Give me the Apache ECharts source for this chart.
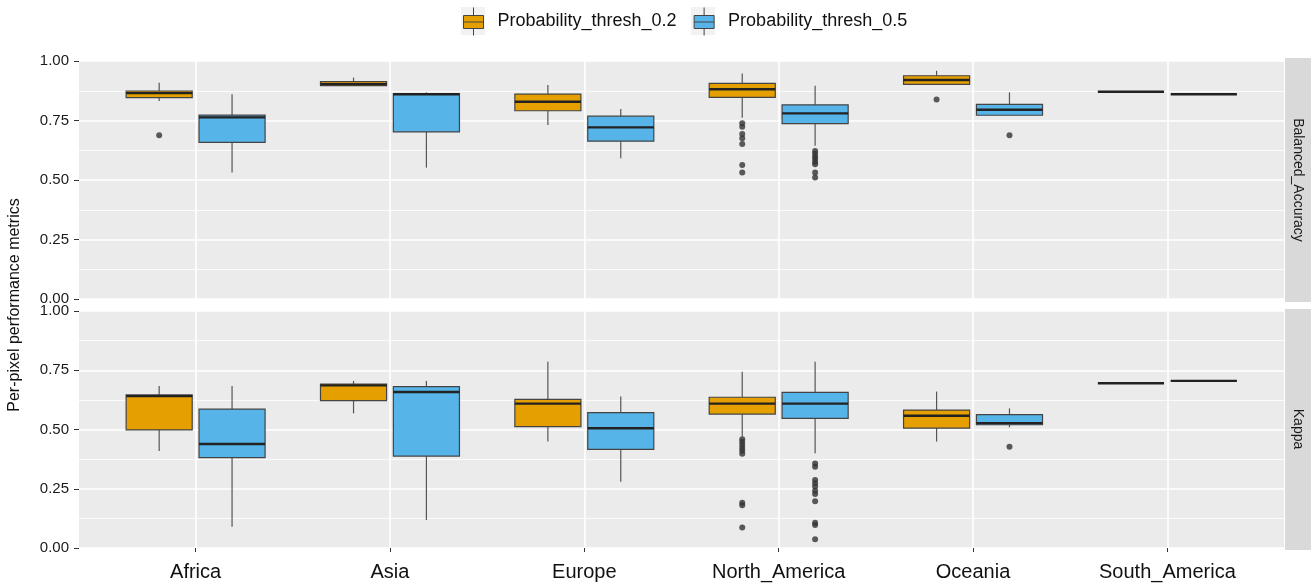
<!DOCTYPE html>
<html>
<head>
<meta charset="utf-8">
<script src="https://cdn.jsdelivr.net/npm/echarts@6/dist/echarts.min.js"></script>
<style>
  html, body { margin: 0; padding: 0; background: #fff; }
  #chart { width: 1313px; height: 585px; }
</style>
</head>
<body>
<div id="chart"></div>
<script>
var regions = ['Africa', 'Asia', 'Europe', 'North_America', 'Oceania', 'South_America'];
var seriesNames = ['Probability_thresh_0.2', 'Probability_thresh_0.5'];
var panelNames = ['Balanced_Accuracy', 'Kappa'];

// box stats per region: [lower whisker, Q1, median, Q3, upper whisker]
var baThresh02 = [
  [0.832, 0.846, 0.865, 0.874, 0.909],
  [0.896, 0.896, 0.902, 0.913, 0.930],
  [0.731, 0.791, 0.829, 0.861, 0.899],
  [0.762, 0.847, 0.881, 0.906, 0.948],
  [0.902, 0.902, 0.920, 0.938, 0.959],
  [0.871, 0.871, 0.871, 0.871, 0.871]
];
var baThresh05 = [
  [0.532, 0.658, 0.763, 0.773, 0.860],
  [0.552, 0.702, 0.860, 0.863, 0.868],
  [0.591, 0.663, 0.721, 0.768, 0.798],
  [0.644, 0.737, 0.780, 0.816, 0.896],
  [0.772, 0.772, 0.795, 0.818, 0.868],
  [0.860, 0.860, 0.860, 0.860, 0.860]
];
var kappaThresh02 = [
  [0.409, 0.498, 0.641, 0.646, 0.684],
  [0.568, 0.622, 0.686, 0.692, 0.705],
  [0.449, 0.512, 0.609, 0.627, 0.786],
  [0.470, 0.565, 0.609, 0.636, 0.744],
  [0.449, 0.506, 0.558, 0.582, 0.660],
  [0.695, 0.695, 0.695, 0.695, 0.695]
];
var kappaThresh05 = [
  [0.090, 0.381, 0.439, 0.586, 0.684],
  [0.118, 0.388, 0.658, 0.681, 0.705],
  [0.280, 0.416, 0.505, 0.571, 0.639],
  [0.400, 0.547, 0.609, 0.657, 0.786],
  [0.509, 0.520, 0.527, 0.563, 0.589],
  [0.705, 0.705, 0.705, 0.705, 0.705]
];

// outliers: [region index, value]
var baOut02 = [[0, 0.688], [3, 0.738], [3, 0.724], [3, 0.693], [3, 0.675], [3, 0.651], [3, 0.563], [3, 0.531], [4, 0.838]];
var baOut05 = [[3, 0.622], [3, 0.610], [3, 0.598], [3, 0.588], [3, 0.576], [3, 0.566], [3, 0.532], [3, 0.510], [4, 0.688]];
var kappaOut02 = [[3, 0.459], [3, 0.447], [3, 0.435], [3, 0.422], [3, 0.410], [3, 0.398], [3, 0.191], [3, 0.180], [3, 0.086]];
var kappaOut05 = [[3, 0.357], [3, 0.343], [3, 0.287], [3, 0.273], [3, 0.259], [3, 0.242], [3, 0.228], [3, 0.197], [3, 0.107], [3, 0.097], [3, 0.037], [4, 0.427]];

var colors = ['#E69F00', '#56B4E9'];
var DODGE = 0.1875;   // half the dodge distance, in category units
var BOX_W = 0.34;     // box width, in category units
var FONT = 'Liberation Sans, Arial, sans-serif';
var BOX_ICON = 'path://M0,8H20V21H0Z M0,14.5H20 M10,0V8 M10,21V28';

var myChart = echarts.init(document.getElementById('chart'));

function renderBox(params, api) {
    var x = api.value(0);
    var lo = api.coord([x, api.value(1)]);
    var q1 = api.coord([x, api.value(2)]);
    var md = api.coord([x, api.value(3)]);
    var q3 = api.coord([x, api.value(4)]);
    var hi = api.coord([x, api.value(5)]);
    var half = api.size([BOX_W, 0])[0] / 2;
    var cx = md[0];
    return {
        type: 'group',
        children: [
            { type: 'line', shape: { x1: cx, y1: hi[1], x2: cx, y2: q3[1] }, style: { stroke: '#555', lineWidth: 1.2 } },
            { type: 'line', shape: { x1: cx, y1: q1[1], x2: cx, y2: lo[1] }, style: { stroke: '#555', lineWidth: 1.2 } },
            { type: 'rect', shape: { x: cx - half, y: q3[1], width: half * 2, height: q1[1] - q3[1] },
              style: { fill: api.visual('color'), stroke: '#444', lineWidth: 1.2 } },
            { type: 'line', shape: { x1: cx - half, y1: md[1], x2: cx + half, y2: md[1] }, style: { stroke: '#222', lineWidth: 2.4 } }
        ]
    };
}

function boxData(stats, k) {
    var off = k === 0 ? -DODGE : DODGE;
    return stats.map(function (s, i) { return [i + off].concat(s); });
}
function outData(pts, k) {
    var off = k === 0 ? -DODGE : DODGE;
    return pts.map(function (p) { return [p[0] + off, p[1]]; });
}

var panels = [
    { boxes: [baThresh02, baThresh05], outs: [baOut02, baOut05] },
    { boxes: [kappaThresh02, kappaThresh05], outs: [kappaOut02, kappaOut05] }
];

var series = [];
panels.forEach(function (p, g) {
    [0, 1].forEach(function (k) {
        series.push({
            name: seriesNames[k],
            type: 'custom',
            xAxisIndex: g,
            yAxisIndex: g,
            itemStyle: { color: colors[k] },
            encode: { x: 0, y: [1, 2, 3, 4, 5] },
            renderItem: renderBox,
            data: boxData(p.boxes[k], k),
            z: 3
        });
        series.push({
            name: seriesNames[k],
            type: 'scatter',
            xAxisIndex: g,
            yAxisIndex: g,
            symbolSize: 6,
            itemStyle: { color: '#333' },
            data: outData(p.outs[k], k),
            z: 4
        });
    });
});

var catTicks = regions.map(function (r, i) { return i; });

function makeX(g) {
    var bottom = g === 1;
    return {
        type: 'value',
        gridIndex: g,
        min: -0.6,
        max: 5.6,
        axisLine: { show: false, onZero: false },
        axisTick: { show: bottom, customValues: catTicks, length: 4, lineStyle: { color: '#333' } },
        axisLabel: {
            show: bottom,
            customValues: catTicks,
            margin: 14,
            fontSize: 20,
            color: '#111',
            fontFamily: FONT,
            formatter: function (v) { return regions[Math.round(v)]; }
        },
        splitLine: { show: true, lineStyle: { color: '#fff', width: 1.6 } }
    };
}
function makeY(g) {
    return {
        type: 'value',
        gridIndex: g,
        min: 0,
        max: 1,
        interval: 0.25,
        axisLine: { show: false, onZero: false },
        axisTick: { show: true, length: 5, lineStyle: { color: '#333' } },
        axisLabel: {
            fontSize: 15, color: '#1a1a1a', fontFamily: FONT, margin: 10,
            formatter: function (v) { return v.toFixed(2); }
        },
        splitLine: { show: true, lineStyle: { color: '#fff', width: 1.6 } },
        minorTick: { show: false, splitNumber: 2 },
        minorSplitLine: { show: true, lineStyle: { color: '#fff', width: 0.8 } }
    };
}

option = {
    backgroundColor: '#ffffff',
    animation: false,
    textStyle: { fontFamily: FONT },
    legend: {
        left: 458,
        top: 2,
        itemWidth: 20,
        itemHeight: 28,
        itemGap: 17,
        textStyle: { fontSize: 18, color: '#111', padding: [0, 0, 0, 9] },
        data: seriesNames.map(function (n, k) {
            return { name: n, icon: BOX_ICON, itemStyle: { color: colors[k], borderColor: '#444', borderWidth: 1 } };
        })
    },
    grid: [
        { left: 79, right: 29, top: 61, height: 238, show: true, backgroundColor: '#EBEBEB', borderWidth: 0 },
        { left: 79, right: 29, top: 311, height: 237, show: true, backgroundColor: '#EBEBEB', borderWidth: 0 }
    ],
    xAxis: [makeX(0), makeX(1)],
    yAxis: [makeY(0), makeY(1)],
    graphic: [
        { type: 'rect', left: 461, top: 7, shape: { width: 24, height: 28 }, style: { fill: '#F2F2F2' }, z: 0 },
        { type: 'rect', left: 691, top: 7, shape: { width: 24, height: 28 }, style: { fill: '#F2F2F2' }, z: 0 },
        { type: 'rect', shape: { x: 1285, y: 58, width: 26, height: 244 }, style: { fill: '#D9D9D9' } },
        { type: 'rect', shape: { x: 1285, y: 309, width: 26, height: 241 }, style: { fill: '#D9D9D9' } },
        { type: 'text', x: 1298, y: 180, rotation: -Math.PI / 2,
          style: { text: panelNames[0], font: '14px ' + FONT, fill: '#1a1a1a', textAlign: 'center', textVerticalAlign: 'middle' } },
        { type: 'text', x: 1298, y: 429, rotation: -Math.PI / 2,
          style: { text: panelNames[1], font: '14px ' + FONT, fill: '#1a1a1a', textAlign: 'center', textVerticalAlign: 'middle' } },
        { type: 'text', x: 15, y: 305, rotation: Math.PI / 2,
          style: { text: 'Per-pixel performance metrics', font: '16px ' + FONT, fill: '#111', textAlign: 'center', textVerticalAlign: 'middle' } }
    ],
    series: series
};

myChart.setOption(option);
</script>
</body>
</html>
